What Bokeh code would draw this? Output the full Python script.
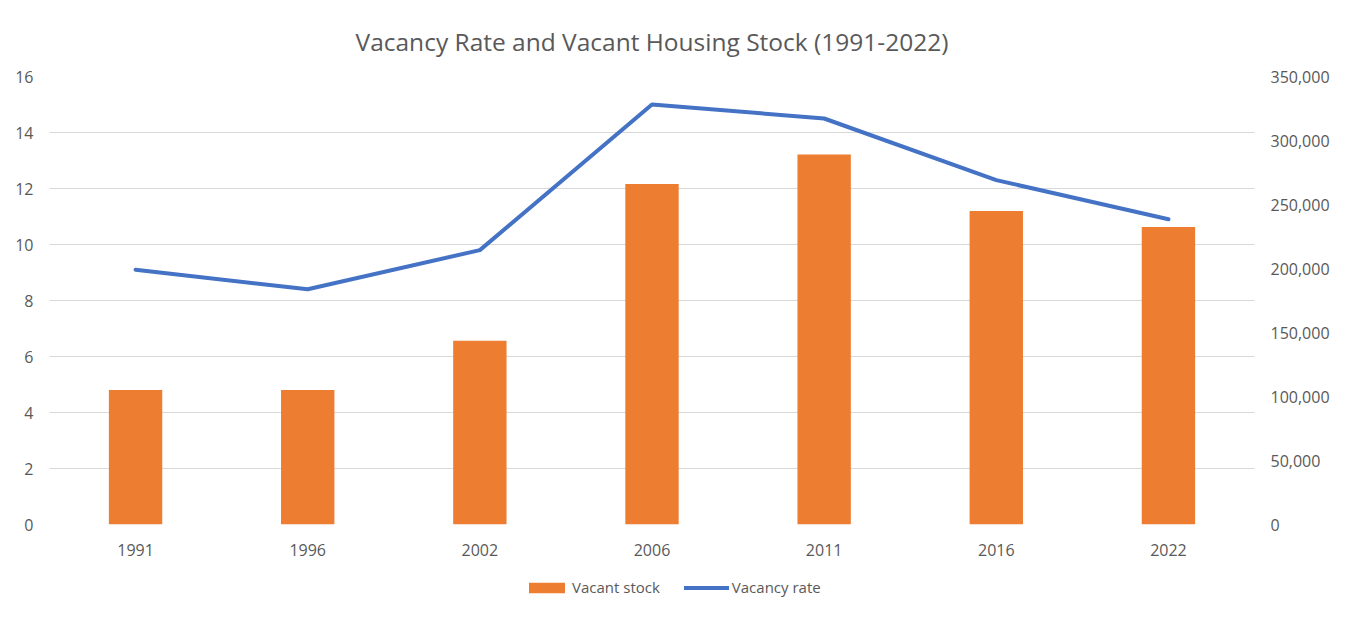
from bokeh.plotting import figure
from bokeh.layouts import column
from bokeh.models import (ColumnDataSource, Range1d, LinearAxis, FactorRange,
                          NumeralTickFormatter, FixedTicker, Legend, LegendItem)
from bokeh.embed import file_html
from bokeh.resources import INLINE

years = ["1991", "1996", "2002", "2006", "2011", "2016", "2022"]
vacant_stock = [105000, 105000, 143500, 266000, 289000, 245000, 232500]
vacancy_rate = [9.1, 8.4, 9.8, 15.0, 14.5, 12.3, 10.9]

TEXT = "#595959"
FONT = "Open Sans"
GRID = "#d9d9d9"
BAR_COLOR = "#ed7d31"
LINE_COLOR = "#4472c4"

src = ColumnDataSource(dict(year=years, stock=vacant_stock, rate=vacancy_rate))

p = figure(width=1332, height=570, output_backend="svg", toolbar_location=None,
           x_range=FactorRange(factors=years, range_padding=0),
           y_range=Range1d(0, 16),
           min_border_left=49, min_border_right=75, min_border_top=76,
           min_border_bottom=46)
p.extra_y_ranges = {"stock": Range1d(0, 350000)}

p.title.text = "Vacancy Rate and Vacant Housing Stock (1991-2022)"
p.title.align = "center"
p.title.offset = 21
p.title.text_font = FONT
p.title.text_font_size = "24.5px"
p.title.text_font_style = "normal"
p.title.text_color = TEXT
p.title.standoff = 38

p.outline_line_color = None

p.vbar(x="year", top="stock", width=0.31, source=src, y_range_name="stock",
       fill_color=BAR_COLOR, line_color=None)
p.line(x="year", y="rate", source=src, line_color=LINE_COLOR, line_width=4,
       line_cap="round", line_join="round")

ax = p.yaxis[0]
ax.ticker = FixedTicker(ticks=[0, 2, 4, 6, 8, 10, 12, 14, 16])

right = LinearAxis(y_range_name="stock",
                   ticker=FixedTicker(ticks=list(range(0, 350001, 50000))),
                   formatter=NumeralTickFormatter(format="0,0"))
p.add_layout(right, "right")

for a in [p.yaxis[0], right, p.xaxis[0]]:
    a.axis_line_color = None
    a.major_tick_line_color = None
    a.minor_tick_line_color = None
    a.major_tick_out = 0
    a.major_tick_in = 0
    a.minor_tick_out = 0
    a.major_label_text_font = FONT
    a.major_label_text_font_size = "16px"
    a.major_label_text_color = TEXT
    a.major_label_standoff = 16

p.xaxis[0].major_label_standoff = 19

p.xgrid.grid_line_color = None
p.ygrid.grid_line_color = GRID
p.ygrid.grid_line_width = 1

# legend strip below the chart (its series renderers sit outside its view range)
q = figure(width=1332, height=32, output_backend="svg", toolbar_location=None,
           x_range=FactorRange(factors=years, range_padding=0),
           y_range=Range1d(-2e6, -1e6),
           min_border=0, min_border_left=0, min_border_right=0,
           min_border_top=0, min_border_bottom=0)
q.axis.visible = False
q.grid.visible = False
q.outline_line_color = None
lb = q.vbar(x="year", bottom="stock", top="stock", width=0, source=src,
            fill_color=BAR_COLOR, line_color=None)
ll = q.line(x="year", y="stock", source=src, line_color=LINE_COLOR, line_width=4,
            line_cap="round")

legend = Legend(items=[LegendItem(label="Vacant stock", renderers=[lb]),
                       LegendItem(label="Vacancy rate", renderers=[ll])],
                orientation="horizontal", location=(475, 5),
                padding=0, margin=0, border_line_color=None,
                background_fill_alpha=0, glyph_width=45, glyph_height=13,
                label_standoff=3, spacing=24,
                label_text_font=FONT, label_text_font_size="15px",
                label_text_color=TEXT)
q.add_layout(legend, "center")

layout = column(p, q, spacing=0)
open("out.html", "w").write(file_html(layout, INLINE))
